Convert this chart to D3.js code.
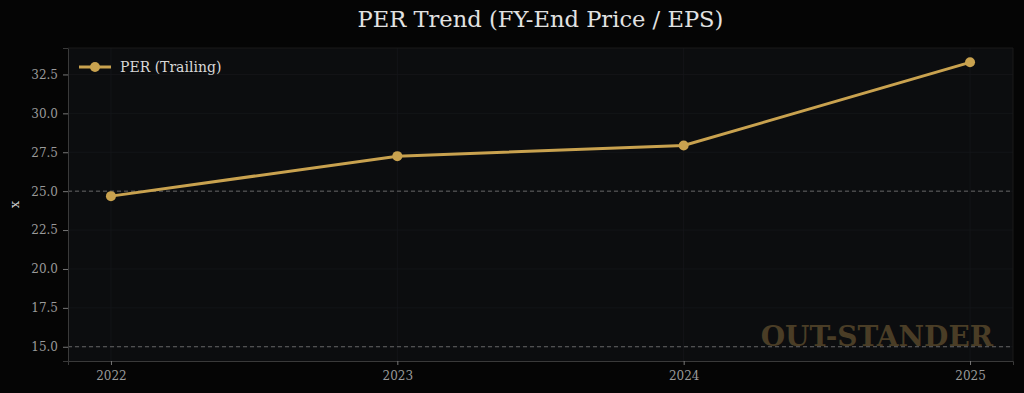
<!DOCTYPE html>
<html><head><meta charset="utf-8">
<script src="https://cdn.jsdelivr.net/npm/d3@7"></script>
<style>
html,body{margin:0;padding:0;background:#050505;}
svg{display:block;font-family:"DejaVu Serif",serif;}
</style></head>
<body><svg id="c" width="1024" height="393"></svg>
<script>
const years = [2022, 2023, 2024, 2025];
const perValues = [24.68, 27.25, 27.93, 33.28];
const yTicks = [15.0, 17.5, 20.0, 22.5, 25.0, 27.5, 30.0, 32.5];
const refLines = [15, 25];
const seriesName = "PER (Trailing)";

const svg = d3.select("#c");
const W = 1024, H = 393;
const m = {l: 68, r: 1013, t: 48, b: 361};
svg.append("rect").attr("width", W).attr("height", H).attr("fill", "#050505");

const x = d3.scaleLinear().domain([2022 - 0.15, 2025 + 0.15]).range([m.l, m.r]);
const y = d3.scaleLinear().domain([14.085, 34.2]).range([m.b, m.t]);

svg.append("rect").attr("x", m.l).attr("y", m.t).attr("width", m.r - m.l).attr("height", m.b - m.t).attr("fill", "#0c0d0f");

// grid
const g = svg.append("g");
g.selectAll(".gy").data(yTicks).join("line").attr("x1", m.l).attr("x2", m.r)
  .attr("y1", d => y(d)).attr("y2", d => y(d)).attr("stroke", "#15171a").attr("stroke-width", 0.8);
g.selectAll(".gx").data(years).join("line").attr("y1", m.t).attr("y2", m.b)
  .attr("x1", d => x(d)).attr("x2", d => x(d)).attr("stroke", "#15171a").attr("stroke-width", 0.8);

// watermark
svg.append("text").attr("x", 993).attr("y", 346).attr("text-anchor", "end")
  .attr("font-family", "DejaVu Serif, serif").attr("font-weight", "bold").attr("font-size", 28)
  .attr("fill", "#4a3d26").text("OUT-STANDER");

// ref lines
svg.selectAll(".ref").data(refLines).join("line").attr("x1", m.l).attr("x2", m.r)
  .attr("y1", d => y(d)).attr("y2", d => y(d)).attr("stroke", "#666").attr("stroke-width", 1)
  .attr("stroke-dasharray", "4,3");

// axes
const ya = svg.append("g").attr("transform", `translate(${m.l},0)`)
  .call(d3.axisLeft(y).tickValues(yTicks).tickFormat(d3.format(".1f")).tickSize(5).tickPadding(5));
const xa = svg.append("g").attr("transform", `translate(0,${m.b})`)
  .call(d3.axisBottom(x).tickValues(years).tickFormat(d3.format("d")).tickSize(4).tickPadding(6));
[ya, xa].forEach(a => {
  a.select(".domain").attr("stroke", "#3a3a3a");
  a.selectAll(".tick line").attr("stroke", "#777");
  a.selectAll("text").attr("fill", "#9a9a9a").attr("font-family", "DejaVu Serif, serif").attr("font-size", 12);
});
// right and top spines
svg.append("line").attr("x1", m.r).attr("x2", m.r).attr("y1", m.t).attr("y2", m.b).attr("stroke", "#1a1a1a");
svg.append("line").attr("x1", m.l).attr("x2", m.r).attr("y1", m.t).attr("y2", m.t).attr("stroke", "#1a1a1a");

svg.append("text").attr("transform", `translate(19,${(m.t + m.b) / 2}) rotate(-90)`)
  .attr("text-anchor", "middle").attr("fill", "#cfcfcf").attr("font-size", 13).text("x");

// line
const color = "#c9a24f";
svg.append("path").datum(years.map((d, i) => [d, perValues[i]]))
  .attr("d", d3.line().x(d => x(d[0])).y(d => y(d[1])))
  .attr("fill", "none").attr("stroke", color).attr("stroke-width", 3);
svg.selectAll(".pt").data(years).join("circle").attr("cx", d => x(d)).attr("cy", (d, i) => y(perValues[i]))
  .attr("r", 5).attr("fill", color);

// legend
const lg = svg.append("g");
lg.append("line").attr("x1", 79).attr("x2", 111).attr("y1", 67).attr("y2", 67).attr("stroke", color).attr("stroke-width", 3);
lg.append("circle").attr("cx", 95).attr("cy", 67).attr("r", 5).attr("fill", color);
lg.append("text").attr("x", 120).attr("y", 72).attr("fill", "#d8d8d8").attr("font-size", 14).text(seriesName);

// title
svg.append("text").attr("x", (m.l + m.r) / 2).attr("y", 27).attr("text-anchor", "middle")
  .attr("fill", "#e2e2e2").attr("font-size", 22.6).text("PER Trend (FY-End Price / EPS)");
</script></body></html>
